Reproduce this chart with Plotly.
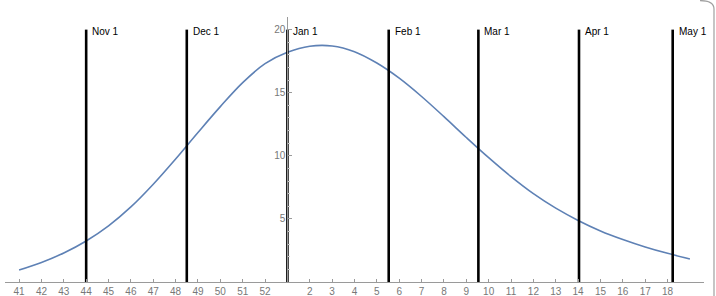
import plotly.graph_objects as go

# Week index: 41..52 are weeks 41..52, 53 is week 1 (Jan 1), 54..71 are weeks 2..19
week_idx = list(range(41, 72))
values = [0.95, 1.55, 2.3, 3.25, 4.45, 5.95, 7.75, 9.75, 11.85, 13.9, 15.8, 17.3,
          18.2, 18.68, 18.7, 18.25, 17.35, 16.15, 14.7, 13.1, 11.45, 9.85, 8.35,
          7.0, 5.85, 4.88, 4.05, 3.37, 2.78, 2.27, 1.82]

month_labels = ["Nov 1", "Dec 1", "Jan 1", "Feb 1", "Mar 1", "Apr 1", "May 1"]
month_pos = [44, 48.5, 53, 57.53, 61.54, 66.04, 70.23]
month_top = 20

tick_vals = list(range(41, 53)) + list(range(54, 71))
tick_text = [str(w) for w in range(41, 53)] + [str(w) for w in range(2, 19)]

x_range = [40.37, 71.63]
y_range = [0, 21]

fig = go.Figure()

fig.add_trace(go.Scatter(x=week_idx, y=values, mode="lines",
                         line=dict(color="#5E81B5", width=1.6, shape="spline", smoothing=1.0),
                         showlegend=False, hoverinfo="skip"))

for lab, xp in zip(month_labels, month_pos):
    fig.add_trace(go.Scatter(x=[xp, xp], y=[0, month_top], mode="lines",
                             line=dict(color="black", width=2.6),
                             showlegend=False, hoverinfo="skip"))
    fig.add_annotation(x=xp, y=month_top, text=lab, showarrow=False,
                       xanchor="left", yanchor="middle", xshift=4, yshift=-2,
                       font=dict(family="Liberation Sans, Arial", size=10, color="black"))

ypos = (53 - x_range[0]) / (x_range[1] - x_range[0])

fig.update_layout(
    width=716, height=296,
    margin=dict(l=5, r=12, t=17, b=14, autoexpand=False),
    plot_bgcolor="white", paper_bgcolor="white",
    xaxis=dict(range=x_range, tickvals=tick_vals, ticktext=tick_text,
               showgrid=False, zeroline=False, showline=True, linecolor="#9a9a9a",
               linewidth=1, ticks="inside", ticklen=3, tickcolor="#9a9a9a",
               tickfont=dict(family="Liberation Sans, Arial", size=10, color="#777777")),
    yaxis=dict(range=y_range, tickvals=[5, 10, 15, 20], showgrid=False, zeroline=False,
               showline=True, linecolor="#9a9a9a", linewidth=1, anchor="free",
               position=ypos, ticks="inside", ticklen=4, tickcolor="#9a9a9a",
               minor=dict(dtick=1, ticks="inside", ticklen=2, tickcolor="#cccccc"),
               tickfont=dict(family="Liberation Sans, Arial", size=10, color="#777777")),
)

# outer frame line at right edge
fx = (714 - 5) / 699
fig.add_shape(type="path", xref="paper", yref="paper",
              path=f"M {fx - 0.02} 1.062 Q {fx} 1.062 {fx} 1.03 L {fx} -0.06",
              line=dict(color="#a0a0a0", width=1.2))

fig.write_html("out.html")
